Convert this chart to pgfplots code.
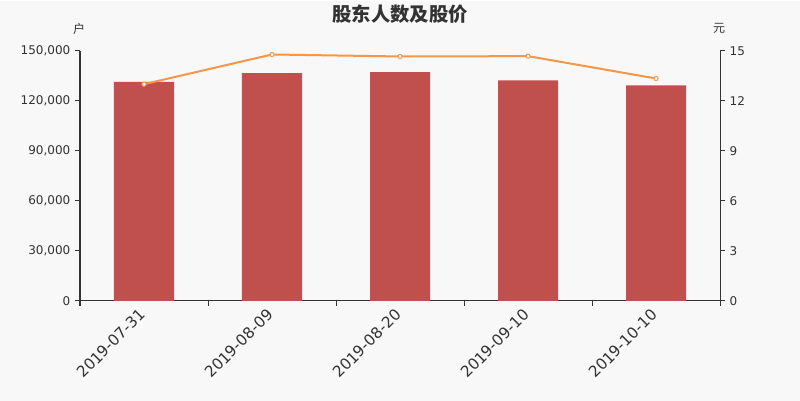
\documentclass[border=0pt]{standalone}
\usepackage{pgfplots}
\pgfplotsset{compat=1.18}
\usepackage{fontspec}
\setmainfont{DejaVu Sans}
\newfontfamily\cjk{Noto Sans CJK SC}

\definecolor{bg}{HTML}{F8F8F8}
\definecolor{barred}{HTML}{C0504D}
\definecolor{lineorange}{HTML}{F79646}
\definecolor{txt}{HTML}{333333}

\begin{document}
\begin{tikzpicture}[x=0.75pt,y=0.75pt]
% canvas 800 x 400 px
\fill[bg] (0,0) rectangle (800,400);

\begin{axis}[
    at={(60pt,75pt)}, anchor=south west,
    scale only axis,
    width=480pt, height=187.5pt,
    xmin=-0.5, xmax=4.5,
    ymin=0, ymax=150000,
    axis x line*=bottom, axis y line*=left,
    axis line style={txt, line width=0.75pt, -},
    tick align=outside,
    major tick length=3.75pt,
    tick style={txt, line width=0.75pt},
    xtick={-0.5,0.5,1.5,2.5,3.5,4.5},
    xticklabels={,,,,,},
    extra x ticks={0,1,2,3,4},
    extra x tick labels={2019-07-31,2019-08-09,2019-08-20,2019-09-10,2019-10-10},
    extra x tick style={major tick length=0pt,
        xticklabel style={rotate=45, anchor=east, font=\fontsize{11.5}{12}\selectfont, text=txt, xshift=-3.2pt, yshift=-5pt}},
    ytick={0,30000,60000,90000,120000,150000},
    scaled y ticks=false,
    yticklabel style={font=\fontsize{9}{10}\selectfont, text=txt},
    /pgf/number format/.cd, fixed, 1000 sep={,}, assume math mode=true,
]
\addplot[ybar, bar width=45pt, fill=barred, draw=none] coordinates {
    (0,131400) (1,136600) (2,137200) (3,132200) (4,129200)
};
\end{axis}

\begin{axis}[
    at={(60pt,75pt)}, anchor=south west,
    scale only axis,
    width=480pt, height=187.5pt,
    xmin=-0.5, xmax=4.5,
    ymin=0, ymax=15,
    axis x line=none,
    axis y line*=right,
    axis line style={txt, line width=0.75pt, -},
    tick align=outside,
    major tick length=3.75pt,
    tick style={txt, line width=0.75pt},
    ytick={0,3,6,9,12,15},
    yticklabel style={font=\fontsize{9}{10}\selectfont, text=txt},
    /pgf/number format/assume math mode=true,
]
\addplot[lineorange, line width=1.5pt, mark=*, mark size=1.6pt,
    mark options={fill=white, draw=lineorange, line width=0.75pt}] coordinates {
    (0,13.0) (1,14.78) (2,14.66) (3,14.68) (4,13.34)
};
\end{axis}

\node[font=\cjk\bfseries\fontsize{14.5}{15}\selectfont, text=txt] at (400,387) {股东人数及股价};
\node[font=\cjk\fontsize{9}{10}\selectfont, text=txt] at (79,372) {户};
\node[font=\cjk\fontsize{9}{10}\selectfont, text=txt] at (719,372) {元};
\end{tikzpicture}
\end{document}
